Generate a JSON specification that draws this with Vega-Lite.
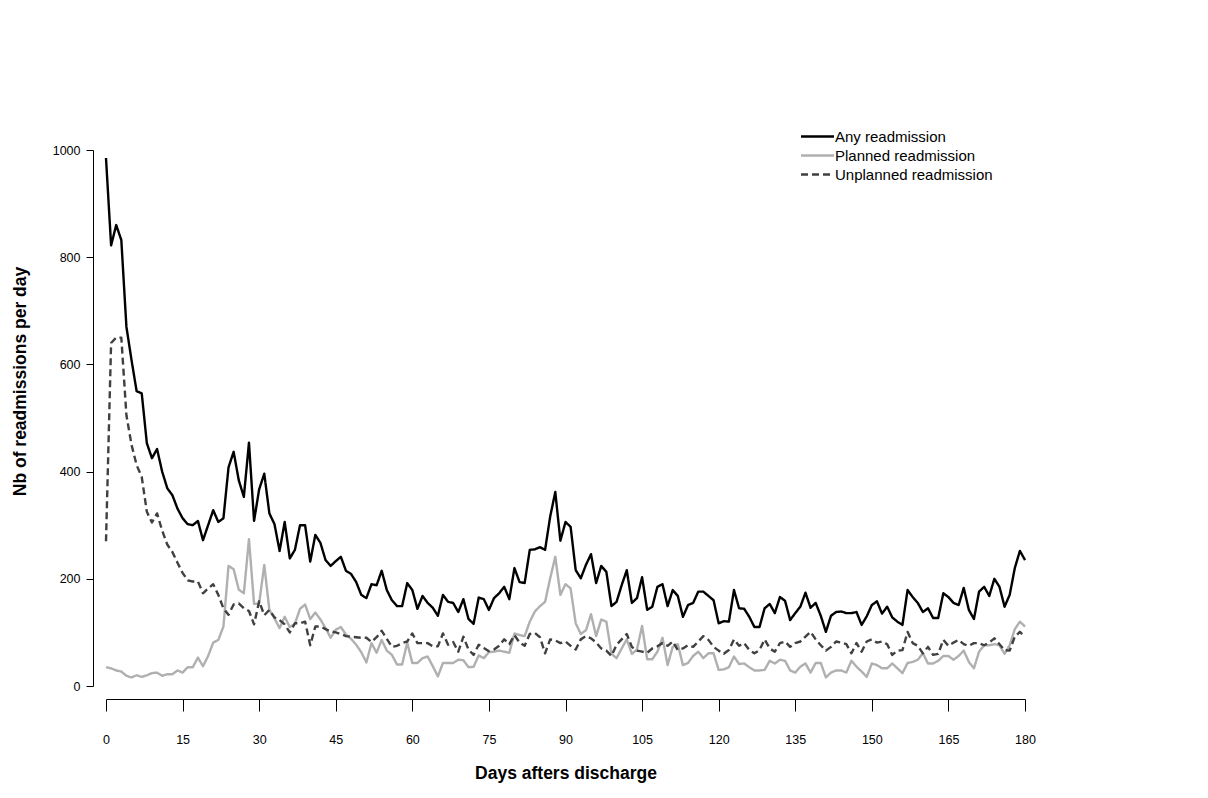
{
  "$schema": "https://vega.github.io/schema/vega-lite/v6.json",
  "autosize": {"type": "none"},
  "padding": {"left": 106, "top": 150, "right": 183, "bottom": 112},
  "width": 919,
  "height": 536,
  "background": "white",
  "config": {"view": {"stroke": null}, "font": "Liberation Sans"},
  "data": {"values": [
{"d":0,"any":985,"planned":35,"unplanned":270},
{"d":1,"any":822,"planned":33,"unplanned":640},
{"d":2,"any":860,"planned":29,"unplanned":650},
{"d":3,"any":832,"planned":27,"unplanned":650},
{"d":4,"any":670,"planned":19,"unplanned":505},
{"d":5,"any":608,"planned":16,"unplanned":450},
{"d":6,"any":550,"planned":20,"unplanned":412},
{"d":7,"any":546,"planned":17,"unplanned":390},
{"d":8,"any":453,"planned":20,"unplanned":325},
{"d":9,"any":425,"planned":24,"unplanned":305},
{"d":10,"any":442,"planned":25,"unplanned":322},
{"d":11,"any":400,"planned":19,"unplanned":290},
{"d":12,"any":369,"planned":22,"unplanned":264},
{"d":13,"any":356,"planned":22,"unplanned":250},
{"d":14,"any":331,"planned":29,"unplanned":230},
{"d":15,"any":313,"planned":25,"unplanned":211},
{"d":16,"any":302,"planned":35,"unplanned":197},
{"d":17,"any":300,"planned":35,"unplanned":195},
{"d":18,"any":308,"planned":53,"unplanned":195},
{"d":19,"any":272,"planned":37,"unplanned":173},
{"d":20,"any":300,"planned":56,"unplanned":182},
{"d":21,"any":328,"planned":81,"unplanned":190},
{"d":22,"any":306,"planned":86,"unplanned":170},
{"d":23,"any":313,"planned":111,"unplanned":145},
{"d":24,"any":408,"planned":224,"unplanned":133},
{"d":25,"any":437,"planned":218,"unplanned":152},
{"d":26,"any":384,"planned":180,"unplanned":154},
{"d":27,"any":353,"planned":173,"unplanned":145},
{"d":28,"any":454,"planned":274,"unplanned":140},
{"d":29,"any":308,"planned":153,"unplanned":115},
{"d":30,"any":367,"planned":154,"unplanned":158},
{"d":31,"any":396,"planned":226,"unplanned":132},
{"d":32,"any":322,"planned":142,"unplanned":142},
{"d":33,"any":302,"planned":126,"unplanned":128},
{"d":34,"any":252,"planned":108,"unplanned":123},
{"d":35,"any":306,"planned":129,"unplanned":115},
{"d":36,"any":238,"planned":110,"unplanned":100},
{"d":37,"any":254,"planned":116,"unplanned":117},
{"d":38,"any":300,"planned":144,"unplanned":117},
{"d":39,"any":300,"planned":152,"unplanned":120},
{"d":40,"any":232,"planned":125,"unplanned":76},
{"d":41,"any":282,"planned":137,"unplanned":111},
{"d":42,"any":267,"planned":124,"unplanned":111},
{"d":43,"any":235,"planned":108,"unplanned":106},
{"d":44,"any":224,"planned":90,"unplanned":102},
{"d":45,"any":233,"planned":105,"unplanned":100},
{"d":46,"any":241,"planned":110,"unplanned":97},
{"d":47,"any":215,"planned":96,"unplanned":93},
{"d":48,"any":209,"planned":88,"unplanned":92},
{"d":49,"any":194,"planned":77,"unplanned":91},
{"d":50,"any":170,"planned":63,"unplanned":90},
{"d":51,"any":164,"planned":44,"unplanned":90},
{"d":52,"any":190,"planned":80,"unplanned":82},
{"d":53,"any":188,"planned":62,"unplanned":91},
{"d":54,"any":215,"planned":86,"unplanned":103},
{"d":55,"any":179,"planned":66,"unplanned":88},
{"d":56,"any":160,"planned":58,"unplanned":73},
{"d":57,"any":149,"planned":40,"unplanned":75},
{"d":58,"any":149,"planned":40,"unplanned":80},
{"d":59,"any":192,"planned":81,"unplanned":83},
{"d":60,"any":179,"planned":43,"unplanned":98},
{"d":61,"any":144,"planned":43,"unplanned":80},
{"d":62,"any":168,"planned":52,"unplanned":80},
{"d":63,"any":155,"planned":55,"unplanned":80},
{"d":64,"any":146,"planned":37,"unplanned":74},
{"d":65,"any":131,"planned":18,"unplanned":74},
{"d":66,"any":170,"planned":43,"unplanned":98},
{"d":67,"any":157,"planned":43,"unplanned":77},
{"d":68,"any":155,"planned":43,"unplanned":82},
{"d":69,"any":138,"planned":49,"unplanned":64},
{"d":70,"any":162,"planned":48,"unplanned":92},
{"d":71,"any":125,"planned":35,"unplanned":68},
{"d":72,"any":116,"planned":36,"unplanned":58},
{"d":73,"any":165,"planned":57,"unplanned":77},
{"d":74,"any":162,"planned":52,"unplanned":71},
{"d":75,"any":142,"planned":63,"unplanned":65},
{"d":76,"any":164,"planned":64,"unplanned":68},
{"d":77,"any":173,"planned":66,"unplanned":75},
{"d":78,"any":185,"planned":64,"unplanned":87},
{"d":79,"any":162,"planned":62,"unplanned":78},
{"d":80,"any":220,"planned":98,"unplanned":95},
{"d":81,"any":194,"planned":95,"unplanned":81},
{"d":82,"any":192,"planned":93,"unplanned":75},
{"d":83,"any":254,"planned":120,"unplanned":97},
{"d":84,"any":255,"planned":139,"unplanned":99},
{"d":85,"any":259,"planned":149,"unplanned":91},
{"d":86,"any":254,"planned":157,"unplanned":61},
{"d":87,"any":316,"planned":201,"unplanned":87},
{"d":88,"any":362,"planned":241,"unplanned":85},
{"d":89,"any":271,"planned":170,"unplanned":80},
{"d":90,"any":306,"planned":190,"unplanned":83},
{"d":91,"any":297,"planned":182,"unplanned":75},
{"d":92,"any":216,"planned":117,"unplanned":68},
{"d":93,"any":201,"planned":97,"unplanned":87},
{"d":94,"any":226,"planned":104,"unplanned":93},
{"d":95,"any":246,"planned":134,"unplanned":89},
{"d":96,"any":192,"planned":93,"unplanned":81},
{"d":97,"any":224,"planned":124,"unplanned":70},
{"d":98,"any":213,"planned":120,"unplanned":66},
{"d":99,"any":149,"planned":60,"unplanned":56},
{"d":100,"any":157,"planned":52,"unplanned":77},
{"d":101,"any":188,"planned":70,"unplanned":87},
{"d":102,"any":216,"planned":87,"unplanned":97},
{"d":103,"any":155,"planned":60,"unplanned":73},
{"d":104,"any":164,"planned":68,"unplanned":66},
{"d":105,"any":203,"planned":112,"unplanned":64},
{"d":106,"any":142,"planned":50,"unplanned":62},
{"d":107,"any":148,"planned":50,"unplanned":70},
{"d":108,"any":185,"planned":64,"unplanned":74},
{"d":109,"any":190,"planned":90,"unplanned":80},
{"d":110,"any":149,"planned":39,"unplanned":75},
{"d":111,"any":179,"planned":73,"unplanned":83},
{"d":112,"any":168,"planned":78,"unplanned":67},
{"d":113,"any":129,"planned":39,"unplanned":70},
{"d":114,"any":151,"planned":43,"unplanned":76},
{"d":115,"any":155,"planned":56,"unplanned":73},
{"d":116,"any":176,"planned":64,"unplanned":83},
{"d":117,"any":176,"planned":52,"unplanned":93},
{"d":118,"any":168,"planned":61,"unplanned":86},
{"d":119,"any":160,"planned":61,"unplanned":73},
{"d":120,"any":117,"planned":30,"unplanned":66},
{"d":121,"any":121,"planned":31,"unplanned":60},
{"d":122,"any":120,"planned":35,"unplanned":67},
{"d":123,"any":179,"planned":55,"unplanned":87},
{"d":124,"any":145,"planned":41,"unplanned":75},
{"d":125,"any":144,"planned":42,"unplanned":80},
{"d":126,"any":129,"planned":35,"unplanned":67},
{"d":127,"any":110,"planned":29,"unplanned":61},
{"d":128,"any":110,"planned":29,"unplanned":67},
{"d":129,"any":145,"planned":30,"unplanned":87},
{"d":130,"any":153,"planned":47,"unplanned":70},
{"d":131,"any":136,"planned":42,"unplanned":64},
{"d":132,"any":166,"planned":49,"unplanned":80},
{"d":133,"any":159,"planned":47,"unplanned":83},
{"d":134,"any":123,"planned":29,"unplanned":73},
{"d":135,"any":136,"planned":25,"unplanned":80},
{"d":136,"any":148,"planned":36,"unplanned":83},
{"d":137,"any":174,"planned":42,"unplanned":92},
{"d":138,"any":146,"planned":25,"unplanned":101},
{"d":139,"any":155,"planned":43,"unplanned":87},
{"d":140,"any":131,"planned":43,"unplanned":76},
{"d":141,"any":101,"planned":16,"unplanned":66},
{"d":142,"any":131,"planned":25,"unplanned":73},
{"d":143,"any":138,"planned":29,"unplanned":83},
{"d":144,"any":139,"planned":29,"unplanned":81},
{"d":145,"any":136,"planned":25,"unplanned":78},
{"d":146,"any":136,"planned":47,"unplanned":61},
{"d":147,"any":138,"planned":36,"unplanned":80},
{"d":148,"any":114,"planned":27,"unplanned":64},
{"d":149,"any":130,"planned":17,"unplanned":83},
{"d":150,"any":151,"planned":42,"unplanned":87},
{"d":151,"any":158,"planned":39,"unplanned":81},
{"d":152,"any":135,"planned":33,"unplanned":83},
{"d":153,"any":148,"planned":33,"unplanned":78},
{"d":154,"any":128,"planned":42,"unplanned":58},
{"d":155,"any":120,"planned":33,"unplanned":66},
{"d":156,"any":114,"planned":24,"unplanned":67},
{"d":157,"any":179,"planned":43,"unplanned":101},
{"d":158,"any":166,"planned":45,"unplanned":80},
{"d":159,"any":155,"planned":49,"unplanned":75},
{"d":160,"any":138,"planned":61,"unplanned":61},
{"d":161,"any":145,"planned":42,"unplanned":73},
{"d":162,"any":127,"planned":42,"unplanned":58},
{"d":163,"any":127,"planned":47,"unplanned":60},
{"d":164,"any":173,"planned":56,"unplanned":86},
{"d":165,"any":166,"planned":56,"unplanned":75},
{"d":166,"any":155,"planned":49,"unplanned":81},
{"d":167,"any":151,"planned":56,"unplanned":86},
{"d":168,"any":183,"planned":66,"unplanned":78},
{"d":169,"any":142,"planned":45,"unplanned":75},
{"d":170,"any":125,"planned":33,"unplanned":80},
{"d":171,"any":176,"planned":64,"unplanned":80},
{"d":172,"any":185,"planned":76,"unplanned":76},
{"d":173,"any":168,"planned":76,"unplanned":81},
{"d":174,"any":200,"planned":78,"unplanned":89},
{"d":175,"any":185,"planned":76,"unplanned":78},
{"d":176,"any":148,"planned":60,"unplanned":67},
{"d":177,"any":170,"planned":76,"unplanned":66},
{"d":178,"any":220,"planned":106,"unplanned":92},
{"d":179,"any":252,"planned":120,"unplanned":101},
{"d":180,"any":235,"planned":111,"unplanned":92}
  ]},
  "transform": [{"fold": ["any", "planned", "unplanned"], "as": ["series", "value"]}],
  "mark": {"type": "line", "strokeWidth": 2.4, "strokeJoin": "round"},
  "encoding": {
    "x": {
      "field": "d", "type": "quantitative",
      "scale": {"domain": [0, 180], "nice": false, "zero": false},
      "axis": {
        "values": [0, 15, 30, 45, 60, 75, 90, 105, 120, 135, 150, 165, 180],
        "offset": 13, "grid": false,
        "domainColor": "#000000", "domainWidth": 1,
        "tickColor": "#000000", "tickSize": 12, "tickWidth": 1,
        "labelColor": "#000000", "labelFontSize": 12.5, "labelPadding": 22, "labelFlush": false,
        "title": "Days afters discharge", "titleColor": "#000000",
        "titleFontSize": 17.5, "titleFontWeight": "bold", "titlePadding": 19
      }
    },
    "y": {
      "field": "value", "type": "quantitative",
      "scale": {"domain": [0, 1000], "nice": false},
      "axis": {
        "values": [0, 200, 400, 600, 800, 1000], "format": "d",
        "offset": 13, "grid": false,
        "domainColor": "#000000", "domainWidth": 1,
        "tickColor": "#000000", "tickSize": 7, "tickWidth": 1,
        "labelColor": "#000000", "labelFontSize": 12.5, "labelPadding": 6, "labelFlush": false,
        "title": "Nb of readmissions per day", "titleColor": "#000000",
        "titleFontSize": 17.5, "titleFontWeight": "bold",
        "titleAngle": -90, "titleX": -73, "titleY": 231, "titleAlign": "center", "titleBaseline": "middle"
      }
    },
    "color": {
      "field": "series", "type": "nominal",
      "scale": {"domain": ["any", "planned", "unplanned"], "range": ["#000000", "#b0b0b0", "#404040"]},
      "legend": {
        "orient": "none", "legendX": 704, "legendY": -21, "title": null,
        "symbolType": "M-3,0H3", "symbolSize": 121, "symbolStrokeWidth": 2.4,
        "labelFontSize": 15, "labelColor": "#000000", "labelOffset": 10, "rowPadding": 3,
        "labelExpr": "datum.value == 'any' ? 'Any readmission' : datum.value == 'planned' ? 'Planned readmission' : 'Unplanned readmission'"
      }
    },
    "strokeDash": {
      "field": "series", "type": "nominal",
      "scale": {"domain": ["any", "planned", "unplanned"], "range": [[1, 0], [1, 0], [7, 4]]},
      "legend": {
        "orient": "none", "legendX": 704, "legendY": -21, "title": null,
        "symbolType": "M-3,0H3", "symbolSize": 121, "symbolStrokeWidth": 2.4,
        "labelFontSize": 15, "labelColor": "#000000", "labelOffset": 10, "rowPadding": 3,
        "labelExpr": "datum.value == 'any' ? 'Any readmission' : datum.value == 'planned' ? 'Planned readmission' : 'Unplanned readmission'"
      }
    }
  }
}
